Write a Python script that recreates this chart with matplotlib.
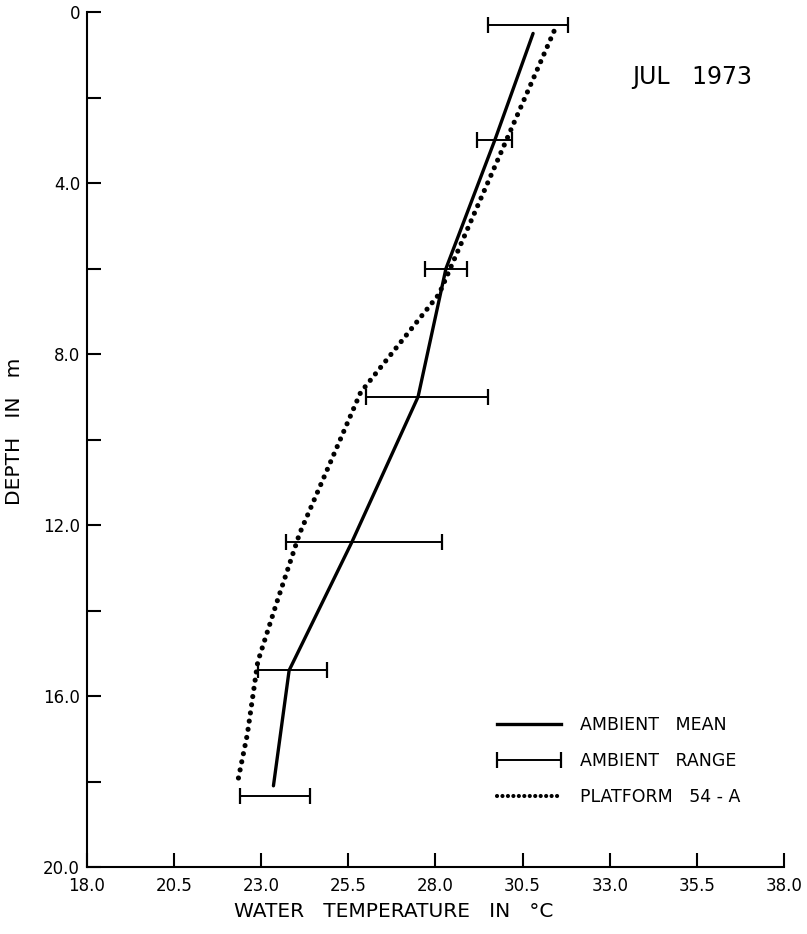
import matplotlib
matplotlib.use('Agg')
import matplotlib.pyplot as plt
from matplotlib.lines import Line2D
from matplotlib.legend_handler import HandlerErrorbar
import numpy as np

# ambient mean profile (temperature in deg C vs depth in m)
mean_depth = [0.5, 3.0, 6.0, 9.0, 12.4, 15.4, 18.1]
mean_temp = [30.8, 29.7, 28.3, 27.5, 25.6, 23.8, 23.35]

# ambient range at each sampled depth
range_depth = [0.3, 3.0, 6.0, 9.0, 12.4, 15.4, 18.35]
range_lo = [29.5, 29.2, 27.7, 26.0, 23.7, 22.9, 22.4]
range_hi = [31.8, 30.2, 28.9, 29.5, 28.2, 24.9, 24.4]

# platform 54-A profile
plat_depth = [0.45, 6.6, 8.9, 12.2, 13.8, 15.2, 16.9, 18.1]
plat_temp = [31.4, 28.1, 25.85, 24.1, 23.45, 22.9, 22.6, 22.3]

x_ticks = [18.0, 20.5, 23.0, 25.5, 28.0, 30.5, 33.0, 35.5, 38.0]
y_ticks = [0, 2, 4, 6, 8, 10, 12, 14, 16, 18, 20]
y_labels = ['0', '', '4.0', '', '8.0', '', '12.0', '', '16.0', '', '20.0']

plt.rcParams['font.family'] = ['DejaVu Sans']

fig = plt.figure(figsize=(8.07, 9.34), dpi=100)
ax = fig.add_axes([0.1078, 0.0717, 0.8637, 0.9154])

ax.plot(mean_temp, mean_depth, color='black', lw=2.4, solid_capstyle='round')

lo = np.array(range_lo)
hi = np.array(range_hi)
eb = ax.errorbar((lo + hi) / 2, range_depth, xerr=(hi - lo) / 2, fmt='none',
                 ecolor='black', elinewidth=1.4, capsize=5.5, capthick=1.6)

dots = (0, (0.01, 1.6))
ax.plot(plat_temp, plat_depth, color='black', lw=3.7,
        linestyle=dots, dash_capstyle='round')

ax.set_xlim(18.0, 38.0)
ax.set_ylim(20, 0)
ax.set_xticks(x_ticks)
ax.set_xticklabels([f'{t:.1f}' for t in x_ticks])
ax.set_yticks(y_ticks)
ax.set_yticklabels(y_labels)

for s in ('top', 'right'):
    ax.spines[s].set_visible(False)
for s in ('left', 'bottom'):
    ax.spines[s].set_linewidth(1.5)

ax.tick_params(axis='both', direction='in', length=10, width=1.5, labelsize=12)
ax.tick_params(axis='y', pad=5)
ax.tick_params(axis='x', pad=7)

ax.set_xlabel('WATER   TEMPERATURE   IN   °C', fontsize=14.5)
ax.xaxis.set_label_coords(0.44, -0.041)
ax.set_ylabel('DEPTH   IN   m', fontsize=14.5)
ax.yaxis.set_label_coords(-0.09, 0.51)

ax.text(0.868, 0.924, 'JUL   1973', transform=ax.transAxes, fontsize=17,
        ha='center', va='center')

handles = [
    Line2D([], [], color='black', lw=2.4),
    eb,
    Line2D([], [], color='black', lw=3.0, linestyle=(0, (0.01, 1.3)),
           dash_capstyle='round'),
]
labels = ['AMBIENT   MEAN', 'AMBIENT   RANGE', 'PLATFORM   54 - A']
ax.legend(handles, labels, loc='center left', bbox_to_anchor=(0.588, 0.124),
          frameon=False, fontsize=12.5, handlelength=3.7, handletextpad=1.1,
          labelspacing=1.05, borderpad=0, borderaxespad=0,
          handler_map={eb: HandlerErrorbar(xerr_size=1.85)})

fig.savefig('out.png', dpi=100)
